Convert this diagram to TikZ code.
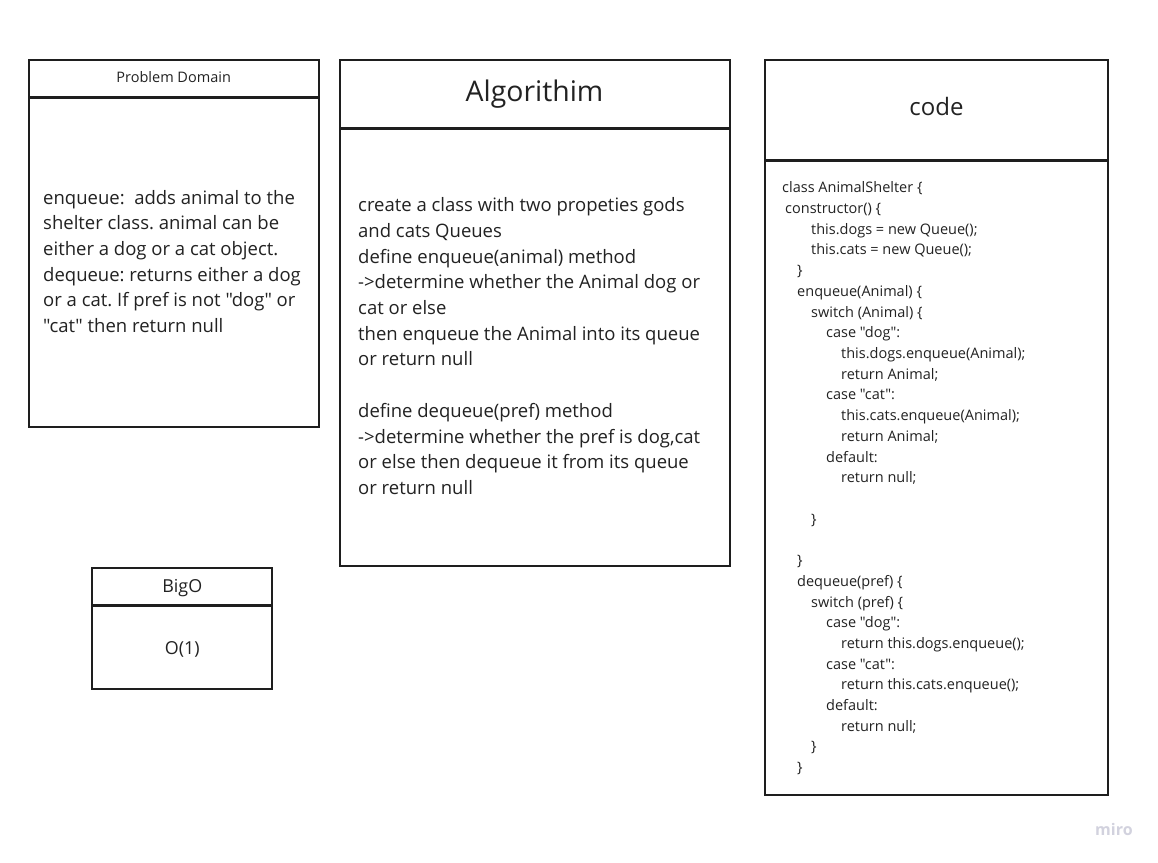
\documentclass[tikz,border=0pt]{standalone}
\usepackage{fontspec}
\setmainfont{Open Sans}[Ligatures=TeXOff]
\definecolor{ink}{HTML}{222222}
\definecolor{edge}{HTML}{1E1E1E}
\definecolor{mirogrey}{HTML}{D2D2DE}
\newcommand{\sq}{\symbol{34}}
\begin{document}
\frenchspacing
\begin{tikzpicture}[x=1pt,y=-1pt,
  box/.style={draw=edge,line width=2pt,rectangle,inner sep=0pt,outer sep=0pt,anchor=north west},
  sep/.style={draw=edge,line width=3pt},
  txt/.style={anchor=base west,inner sep=0pt,text=ink,font=\fontsize{18.5}{22}\selectfont},
  ctxt/.style={anchor=base west,inner sep=0pt,text=ink,font=\fontsize{14.5}{18}\selectfont},
  title/.style={anchor=base,inner sep=0pt,text=ink}]
\useasboundingbox (0,0) rectangle (1158,862);
\fill[white] (0,0) rectangle (1158,862);

% Problem Domain
\node[box,minimum width=289.5pt,minimum height=367pt] (pd) at (29,60) {};
\draw[sep] (pd.west |- 0,97.7) -- (pd.east |- 0,97.7);
\node[title,font=\fontsize{14.5}{17}\selectfont] (pdt) at (173.7,82.3) {Problem Domain};
\node[txt] (pd1) at (43,204) {enqueue:\ \ adds animal to the};
\node[txt] (pd2) at (43,229.7) {shelter class. animal can be};
\node[txt] (pd3) at (43,255.4) {either a dog or a cat object.};
\node[txt] (pd4) at (43,281.1) {dequeue: returns either a dog};
\node[txt] (pd5) at (43,306.8) {or a cat. If pref is not \sq dog\sq{} or};
\node[txt] (pd6) at (43,332.5) {\sq cat\sq{} then return null};

% Algorithim
\node[box,minimum width=390pt,minimum height=506pt] (al) at (340,60) {};
\draw[sep] (al.west |- 0,128.7) -- (al.east |- 0,128.7);
\node[title,font=\fontsize{28.4}{32}\selectfont] (alt) at (534.5,101) {Algorithim};
\node[txt] (a1) at (358,211.7) {create a class with two propeties gods};
\node[txt] (a2) at (358,237.4) {and cats Queues};
\node[txt] (a3) at (358,263.1) {define enqueue(animal) method};
\node[txt] (a4) at (358,288.8) {->determine whether the Animal dog or};
\node[txt] (a5) at (358,314.5) {cat or else};
\node[txt] (a6) at (358,340.2) {then enqueue the Animal into its queue};
\node[txt] (a7) at (358,365.9) {or return null};
\node[txt] (a8) at (358,417.3) {define dequeue(pref) method};
\node[txt] (a9) at (358,443.0) {->determine whether the pref is dog,cat};
\node[txt] (a10) at (358,468.7) {or else then dequeue it from its queue};
\node[txt] (a11) at (358,494.4) {or return null};

% code
\node[box,minimum width=343pt,minimum height=735pt] (cd) at (765,60) {};
\draw[sep] (cd.west |- 0,160.5) -- (cd.east |- 0,160.5);
\node[title,font=\fontsize{24}{28}\selectfont] (cdt) at (936.5,115.7) {code};
\node[ctxt] (c1) at (782,192.7) {class AnimalShelter \{};
\node[ctxt] (c2) at (785,213.4) {constructor() \{};
\node[ctxt] (c3) at (811,234.1) {this.dogs = new Queue();};
\node[ctxt] (c4) at (811,254.8) {this.cats = new Queue();};
\node[ctxt] (c5) at (797,275.5) {\}};
\node[ctxt] (c6) at (797,296.3) {enqueue(Animal) \{};
\node[ctxt] (c7) at (811,317.0) {switch (Animal) \{};
\node[ctxt] (c8) at (826,337.7) {case \sq dog\sq:};
\node[ctxt] (c9) at (841,358.4) {this.dogs.enqueue(Animal);};
\node[ctxt] (c10) at (841,379.1) {return Animal;};
\node[ctxt] (c11) at (826,399.8) {case \sq cat\sq:};
\node[ctxt] (c12) at (841,420.5) {this.cats.enqueue(Animal);};
\node[ctxt] (c13) at (841,441.2) {return Animal;};
\node[ctxt] (c14) at (826,462.0) {default:};
\node[ctxt] (c15) at (841,482.7) {return null;};
\node[ctxt] (c17) at (811,524.1) {\}};
\node[ctxt] (c19) at (797,565.5) {\}};
\node[ctxt] (c20) at (797,586.2) {dequeue(pref) \{};
\node[ctxt] (c21) at (811,607.0) {switch (pref) \{};
\node[ctxt] (c22) at (826,627.7) {case \sq dog\sq:};
\node[ctxt] (c23) at (841,648.4) {return this.dogs.enqueue();};
\node[ctxt] (c24) at (826,669.1) {case \sq cat\sq:};
\node[ctxt] (c25) at (841,689.8) {return this.cats.enqueue();};
\node[ctxt] (c26) at (826,710.5) {default:};
\node[ctxt] (c27) at (841,731.2) {return null;};
\node[ctxt] (c28) at (811,751.9) {\}};
\node[ctxt] (c29) at (797,772.7) {\}};

% BigO
\node[box,minimum width=180pt,minimum height=120.7pt] (bo) at (92.3,568.3) {};
\draw[sep] (bo.west |- 0,605.2) -- (bo.east |- 0,605.2);
\node[title,font=\fontsize{17.9}{21}\selectfont] (bot) at (182.3,592.3) {BigO};
\node[title,font=\fontsize{17.9}{21}\selectfont] (bob) at (182.3,654.3) {O(1)};

% watermark
\node[anchor=base west,inner sep=0pt,text=mirogrey,font=\bfseries\fontsize{16}{18}\selectfont] (miro) at (1095,835) {miro};
\end{tikzpicture}
\end{document}
